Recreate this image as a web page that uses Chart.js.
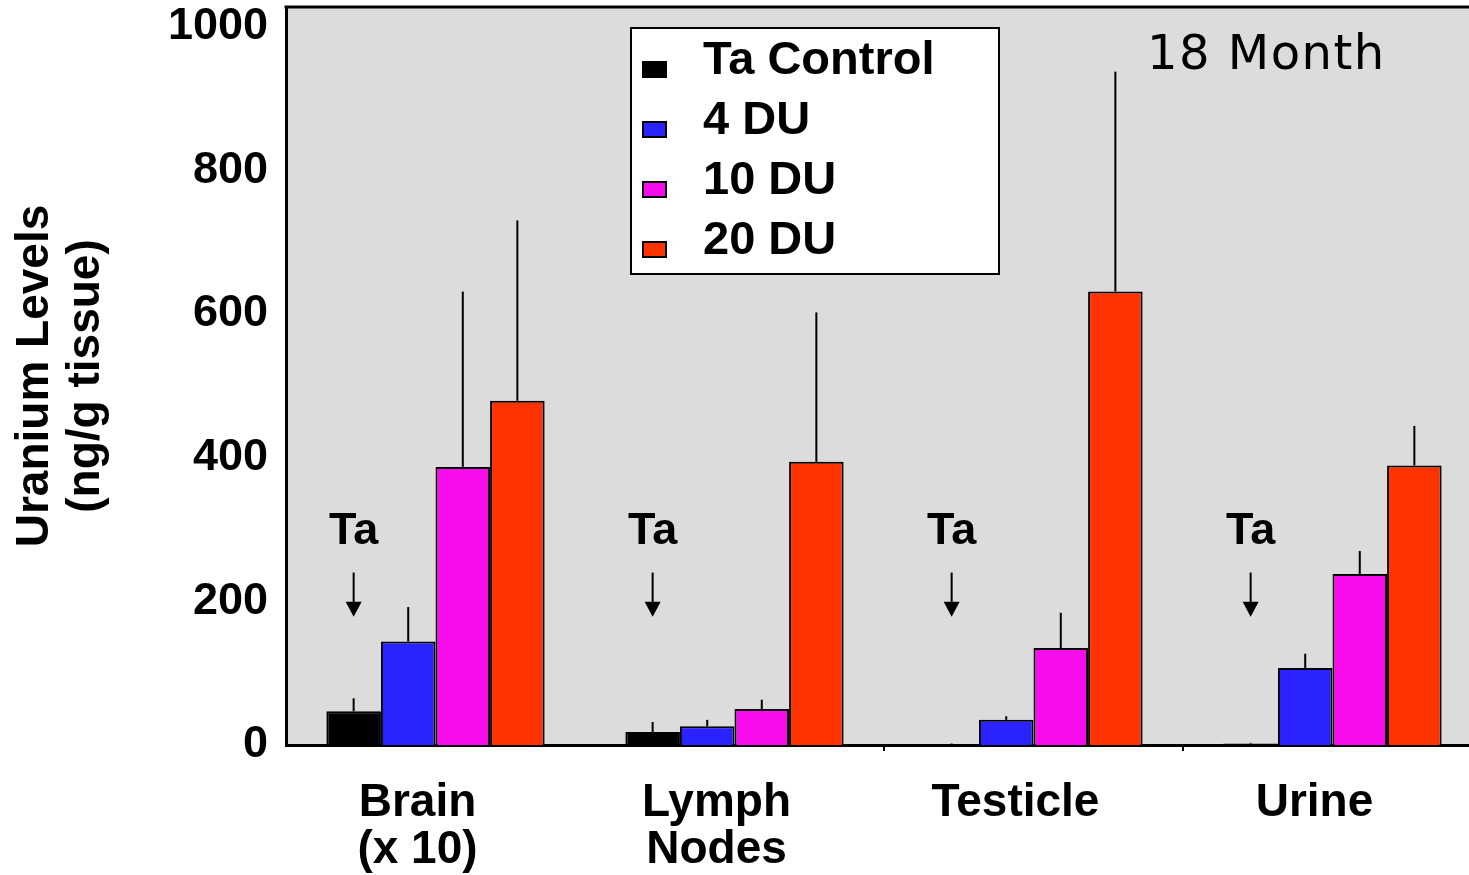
<!DOCTYPE html>
<html>
<head>
<meta charset="utf-8">
<script src="https://cdn.jsdelivr.net/npm/chart.js@4/dist/chart.umd.min.js"></script>
<style>
  body { margin: 0; background: #fff; overflow: hidden; }
  #wrap { width: 1485px; height: 875px; position: relative; }
</style>
</head>
<body>
<div id="wrap"><canvas id="uraniumChart"></canvas></div>
<script>
let categories = [["Brain", "(x 10)"], ["Lymph", "Nodes"], "Testicle", "Urine"];
let seriesNames = ["Ta Control", "4 DU", "10 DU", "20 DU"];
let seriesColors = ["#000000", "#2a22ff", "#f90ceb", "#ff3300"];

let taControl = [47, 18, 1, 2];
let du4 = [144, 26, 35, 107];
let du10 = [387, 50, 135, 238];
let du20 = [479, 394, 631, 389];

// upper error bar lengths
let taControlErr = [18, 14, 1, 1];
let du4Err = [48, 9, 5, 20];
let du10Err = [244, 13, 49, 32];
let du20Err = [251, 208, 306, 55];

let yTicks = [0, 200, 400, 600, 800, 1000];

const FONT = "'Liberation Sans', Arial, sans-serif";

let errorBarPlugin = {
    id: "errorBars",
    afterDatasetsDraw(chart) {
        let ctx = chart.ctx;
        let y = chart.scales.y;
        ctx.save();
        ctx.strokeStyle = "#000";
        ctx.lineWidth = 2;
        chart.data.datasets.forEach((ds, i) => {
            let meta = chart.getDatasetMeta(i);
            meta.data.forEach((bar, j) => {
                let top = y.getPixelForValue(ds.data[j] + ds.errors[j]);
                ctx.beginPath();
                ctx.moveTo(bar.x, bar.y);
                ctx.lineTo(bar.x, top);
                ctx.stroke();
            });
        });
        ctx.restore();
    }
};

let framePlugin = {
    id: "frame",
    beforeDraw(chart) {
        let a = chart.chartArea;
        let ctx = chart.ctx;
        ctx.save();
        ctx.fillStyle = "#dcdcdc";
        ctx.fillRect(a.left, a.top, a.right - a.left, a.bottom - a.top);
        ctx.restore();
    },
    afterDraw(chart) {
        let a = chart.chartArea;
        let ctx = chart.ctx;
        let y = chart.scales.y;
        ctx.save();
        // top border
        ctx.strokeStyle = "#000";
        ctx.lineWidth = 3;
        ctx.beginPath();
        ctx.moveTo(a.left - 1.5, a.top);
        ctx.lineTo(a.right + 10, a.top);
        ctx.stroke();

        // "Ta" markers with arrows above the control bars
        let meta = chart.getDatasetMeta(0);
        ctx.fillStyle = "#000";
        ctx.textAlign = "center";
        ctx.textBaseline = "middle";
        ctx.font = "bold 45px " + FONT;
        meta.data.forEach(bar => {
            let x = bar.x;
            ctx.fillText("Ta", x, y.getPixelForValue(300) + 2);
            let y1 = y.getPixelForValue(240);
            let y2 = y.getPixelForValue(180);
            ctx.lineWidth = 2;
            ctx.beginPath();
            ctx.moveTo(x, y1);
            ctx.lineTo(x, y2 - 10);
            ctx.stroke();
            ctx.beginPath();
            ctx.moveTo(x - 8, y2 - 14);
            ctx.lineTo(x + 8, y2 - 14);
            ctx.lineTo(x, y2 + 1);
            ctx.closePath();
            ctx.fill();
        });

        // "18 Month"
        ctx.textAlign = "left";
        ctx.textBaseline = "alphabetic";
        ctx.font = "48px 'DejaVu Sans', sans-serif";
        ctx.letterSpacing = "1.5px";
        ctx.fillText("18 Month", 1147, 69);
        ctx.letterSpacing = "0px";

        // legend box
        ctx.fillStyle = "#fff";
        ctx.fillRect(631, 28, 368, 246);
        ctx.lineWidth = 2;
        ctx.strokeRect(631, 28, 368, 246);
        ctx.font = "bold 47px " + FONT;
        ctx.textBaseline = "middle";
        seriesNames.forEach((name, i) => {
            let cy = 61 + i * 60;
            ctx.fillStyle = seriesColors[i];
            ctx.fillRect(643, cy + 1, 23, 15);
            ctx.strokeStyle = "#000";
            ctx.lineWidth = 2;
            ctx.strokeRect(643, cy + 1, 23, 15);
            ctx.fillStyle = "#000";
            ctx.fillText(name, 703, cy);
        });
        ctx.restore();
    }
};

let seriesValues = [taControl, du4, du10, du20];
let seriesErrors = [taControlErr, du4Err, du10Err, du20Err];

let chart = new Chart(document.getElementById("uraniumChart").getContext("2d"), {
    type: "bar",
    data: {
        labels: categories,
        datasets: seriesNames.map((name, i) => ({
            label: name,
            data: seriesValues[i],
            errors: seriesErrors[i],
            backgroundColor: seriesColors[i],
            borderColor: "#000",
            borderWidth: 2,
            borderSkipped: "bottom",
            categoryPercentage: 0.73,
            barPercentage: 1.0
        }))
    },
    options: {
        responsive: true,
        maintainAspectRatio: false,
        animation: false,
        layout: { padding: { top: 7, right: 3, left: 0, bottom: 0 } },
        plugins: {
            legend: { display: false },
            tooltip: { enabled: false }
        },
        scales: {
            x: {
                offset: true,
                grid: {
                    display: true,
                    drawOnChartArea: false,
                    offset: true,
                    tickLength: 6,
                    lineWidth: 2,
                    color: ctx => (ctx.index === 2 || ctx.index === 3) ? "#000" : "rgba(0,0,0,0)"
                },
                border: { color: "#000", width: 3 },
                ticks: {
                    color: "#000",
                    font: { family: FONT, size: 46, weight: "bold", lineHeight: 1.04 },
                    padding: 28,
                    labelOffset: -18,
                    maxRotation: 0,
                    autoSkip: false
                },
                afterFit: scale => {
                    scale.height = 130;
                    scale.paddingLeft = 0;
                    scale.paddingRight = 0;
                }
            },
            y: {
                min: 0,
                max: 1027,
                grid: { display: false, drawTicks: false },
                border: { color: "#000", width: 3 },
                ticks: {
                    stepSize: 200,
                    color: "#000",
                    padding: 18,
                    font: { family: FONT, size: 45, weight: "bold" },
                    callback: v => String(v)
                },
                afterBuildTicks: scale => {
                    scale.ticks = yTicks.map(v => ({ value: v }));
                },
                title: {
                    display: true,
                    text: ["Uranium Levels", "(ng/g tissue)"],
                    color: "#000",
                    font: { family: FONT, size: 46, weight: "bold", lineHeight: 1.1 },
                    padding: { top: 10, bottom: 0 }
                },
                afterFit: scale => {
                    scale.width = 286;
                    scale.paddingTop = 0;
                    scale.paddingBottom = 0;
                }
            }
        }
    },
    plugins: [framePlugin, errorBarPlugin]
});
</script>
</body>
</html>
